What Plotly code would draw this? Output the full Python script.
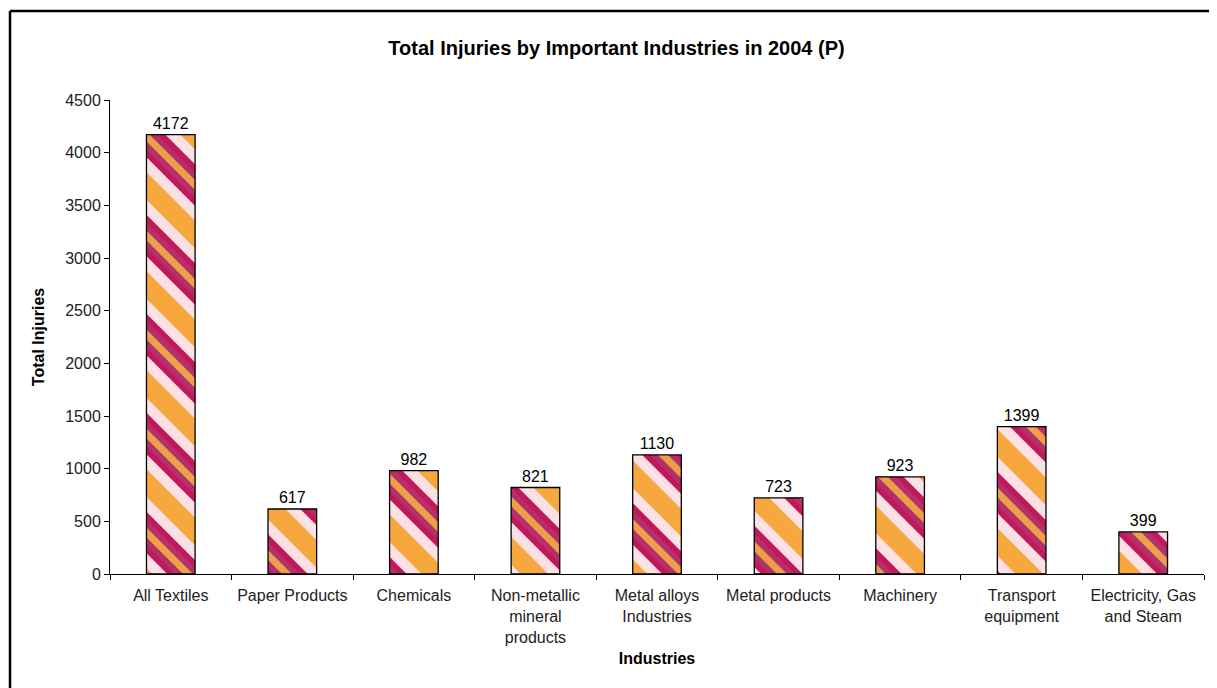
import plotly.graph_objects as go

categories = ["All Textiles", "Paper Products", "Chemicals", "Non-metallic<br>mineral<br>products",
              "Metal alloys<br>Industries", "Metal products", "Machinery", "Transport<br>equipment",
              "Electricity, Gas<br>and Steam"]
injuries = [4172, 617, 982, 821, 1130, 723, 923, 1399, 399]
y_ticks = [0, 500, 1000, 1500, 2000, 2500, 3000, 3500, 4000, 4500]

FONT = "Liberation Sans, Arial, sans-serif"
PAT = 70
W = 0.4

# figure geometry (page has an 8px body margin)
L, R, T, B = 102, 21, 92, 122
PW, PH = 1217 - L - R, 688 - T - B

fig = go.Figure()
# layered diagonal pattern to mimic the gradient band
fig.add_trace(go.Bar(x=categories, y=injuries, width=W, marker=dict(
    color="#F6A83E", line=dict(width=0),
    pattern=dict(shape="\\", fgcolor="#FCE1E4", bgcolor="#F6A83E", size=PAT, solidity=0.72, fillmode="replace")),
    hoverinfo="skip", showlegend=False))
fig.add_trace(go.Bar(x=categories, y=injuries, width=W, marker=dict(
    color="rgba(0,0,0,0)", line=dict(width=0),
    pattern=dict(shape="\\", fgcolor="#C2185B", bgcolor="rgba(0,0,0,0)", size=PAT, solidity=0.42, fillmode="replace")),
    hoverinfo="skip", showlegend=False))
fig.add_trace(go.Bar(x=categories, y=injuries, width=W, marker=dict(
    color="rgba(0,0,0,0)", line=dict(width=0),
    pattern=dict(shape="\\", fgcolor="#B4306A", bgcolor="rgba(0,0,0,0)", size=PAT, solidity=0.26, fillmode="replace")),
    hoverinfo="skip", showlegend=False))
fig.add_trace(go.Bar(x=categories, y=injuries, width=W, marker=dict(
    color="rgba(0,0,0,0)", line=dict(width=0),
    pattern=dict(shape="\\", fgcolor="#EDA04A", bgcolor="rgba(0,0,0,0)", size=PAT, solidity=0.1, fillmode="replace")),
    hoverinfo="skip", showlegend=False))
fig.add_trace(go.Bar(x=categories, y=injuries, width=W,
    marker=dict(color="rgba(0,0,0,0)", line=dict(color="#000000", width=1.3)),
    text=[str(v) for v in injuries], textposition="outside", cliponaxis=False,
    textfont=dict(family=FONT, size=16, color="#000000"), showlegend=False))

fig.update_layout(
    width=1217, height=688, barmode="overlay",
    paper_bgcolor="white", plot_bgcolor="white",
    margin=dict(l=L, r=R, t=T, b=B),
    font=dict(family=FONT, size=16, color="#000000"),
    title=dict(text="<b>Total Injuries by Important Industries in 2004 (P)</b>",
               x=0.5, xref="container", xanchor="center", y=1 - 40 / 688, yref="container", yanchor="middle",
               font=dict(family=FONT, size=20, color="#000000")),
    xaxis=dict(showline=True, linecolor="#000000", linewidth=1, ticks="outside", tickson="boundaries",
               ticklen=5, tickcolor="#000000", showgrid=False, ticklabelstandoff=7,
               tickfont=dict(family=FONT, size=16, color="#222222"),
               title=dict(text="<b>Industries</b>", font=dict(family=FONT, size=16), standoff=8)),
    yaxis=dict(range=[0, 4500], tickvals=y_ticks, showline=True, linecolor="#000000", linewidth=1,
               ticks="outside", ticklen=5, tickcolor="#000000", showgrid=False, zeroline=False,
               tickfont=dict(family=FONT, size=16, color="#222222"),
               title=dict(text="<b>Total Injuries</b>", font=dict(family=FONT, size=16), standoff=16)),
    shapes=[
        dict(type="line", xref="paper", yref="paper", x0=(2 - L) / PW, x1=(2 - L) / PW,
             y0=(PH + T - 3) / PH, y1=-0.4, line=dict(color="#000000", width=2.5)),
        dict(type="line", xref="paper", yref="paper", x0=(2 - L) / PW, x1=1.05,
             y0=(PH + T - 3) / PH, y1=(PH + T - 3) / PH, line=dict(color="#000000", width=2.5)),
    ],
)

fig.write_html("out.html")
